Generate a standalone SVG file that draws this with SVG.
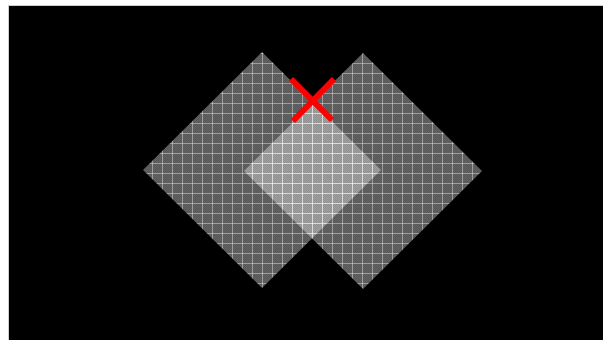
<svg xmlns="http://www.w3.org/2000/svg" width="603" height="340" viewBox="0 0 603 340">
  <style>
    .sheet { fill: url(#grid); }
    .cross { stroke: #ff0000; stroke-width: 6; fill: none; }
  </style>
  <defs>
    <pattern id="dither" x="0" y="0" width="2" height="2" patternUnits="userSpaceOnUse">
      <rect width="2" height="2" fill="#ffffff" fill-opacity="0.34"/>
      <rect width="1" height="1" fill="#ffffff" fill-opacity="0.08"/>
      <rect x="1" y="1" width="1" height="1" fill="#ffffff" fill-opacity="0.08"/>
    </pattern>
    <pattern id="grid" x="2" y="3" width="10" height="10" patternUnits="userSpaceOnUse">
      <rect width="10" height="10" fill="url(#dither)"/>
      <rect x="0" y="0" width="1" height="10" fill="#ffffff" fill-opacity="0.4"/>
      <rect x="0" y="0" width="10" height="1" fill="#ffffff" fill-opacity="0.4"/>
    </pattern>
  </defs>
  <rect x="0" y="0" width="603" height="340" fill="#ffffff"/>
  <rect x="8.5" y="5.5" width="600" height="340" fill="#000000" stroke="#cfcfcf" stroke-width="1"/>
  <g id="sheet-left">
    <polygon class="sheet" points="262,52 381,170 262,288 143,170"/>
  </g>
  <g id="sheet-right">
    <polygon class="sheet" points="363,53 482,171 363,289 244,171"/>
  </g>
  <g id="cross">
    <line class="cross" x1="291" y1="79" x2="332" y2="120"/>
    <line class="cross" x1="334" y1="79" x2="293" y2="121"/>
  </g>
</svg>
